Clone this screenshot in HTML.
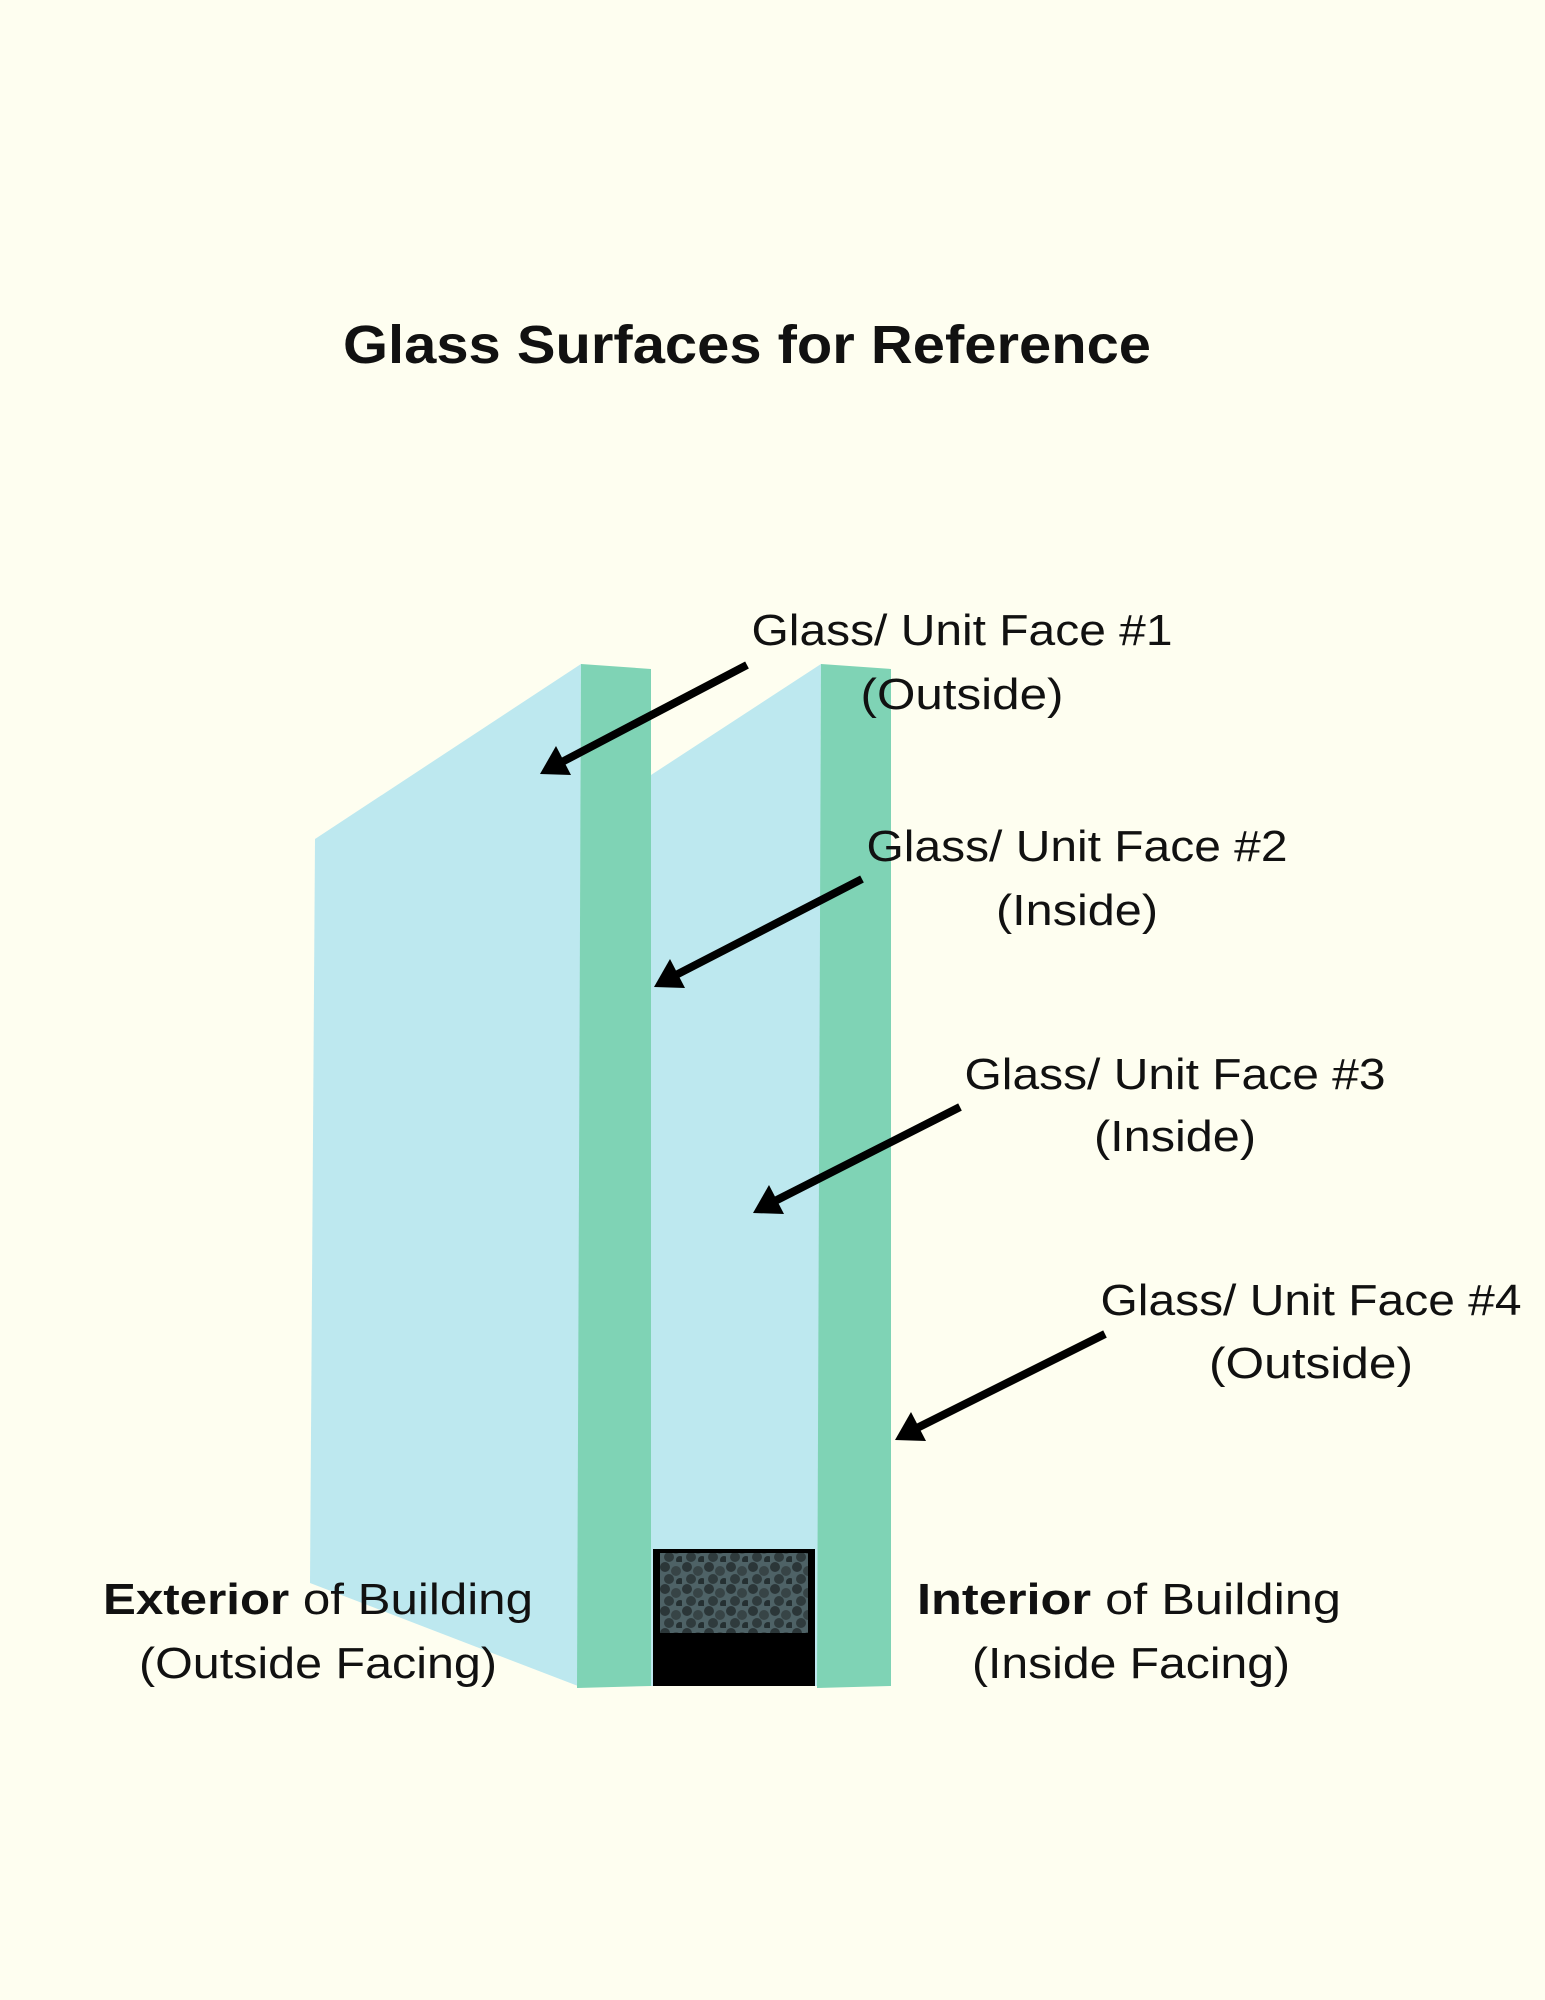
<!DOCTYPE html>
<html><head><meta charset="utf-8"><style>
html,body{margin:0;padding:0;background:#fefef0;}
svg{display:block}
text{font-family:"Liberation Sans",sans-serif;fill:#111;}
</style></head><body>
<svg width="1545" height="2000" viewBox="0 0 1545 2000" xmlns="http://www.w3.org/2000/svg">
<defs>
<pattern id="dots" width="22" height="22" patternUnits="userSpaceOnUse">
<rect width="22" height="22" fill="#4e6266"/>
<circle cx="5" cy="5" r="5" fill="#2b3638"/><circle cx="16" cy="9" r="5" fill="#374446"/>
<circle cx="9" cy="17" r="5" fill="#2f3b3d"/><circle cx="20" cy="20" r="4" fill="#253032"/>
</pattern>
</defs>
<rect width="1545" height="2000" fill="#fefef0"/>
<text x="747" y="363" text-anchor="middle" font-size="54" font-weight="bold" textLength="808" lengthAdjust="spacingAndGlyphs">Glass Surfaces for Reference</text>

<polygon points="315,839 581,664 578,1686 310,1583" fill="#bde8ef"/>
<polygon points="651,775 821,664 819,1686 651,1686" fill="#bde8ef"/>
<polygon points="581,664 651,669 651,1686 577,1688" fill="#7fd3b5"/>
<polygon points="821,664 891,669 891,1686 817,1688" fill="#7fd3b5"/>
<rect x="653" y="1549" width="162" height="137" fill="#000"/>
<rect x="660" y="1553" width="148" height="80" fill="url(#dots)"/>

<g stroke="#000" stroke-width="8" fill="#000">
<line x1="747" y1="665" x2="560" y2="763"/>
<line x1="862" y1="879" x2="674" y2="976"/>
<line x1="960" y1="1107" x2="773" y2="1202"/>
<line x1="1105" y1="1334" x2="915" y2="1429"/>
</g>
<g fill="#000">
<polygon points="540,774 556,746 571,775"/>
<polygon points="654,987 670,959 685,988"/>
<polygon points="753,1213 769,1185 784,1214"/>
<polygon points="895,1440 911,1412 926,1441"/>
</g>

<g font-size="44" text-anchor="middle">
<text x="962" y="645" textLength="421" lengthAdjust="spacingAndGlyphs">Glass/ Unit Face #1</text>
<text x="962" y="709" textLength="203" lengthAdjust="spacingAndGlyphs">(Outside)</text>
<text x="1077" y="861" textLength="421" lengthAdjust="spacingAndGlyphs">Glass/ Unit Face #2</text>
<text x="1077" y="925" textLength="162" lengthAdjust="spacingAndGlyphs">(Inside)</text>
<text x="1175" y="1089" textLength="421" lengthAdjust="spacingAndGlyphs">Glass/ Unit Face #3</text>
<text x="1175" y="1151" textLength="162" lengthAdjust="spacingAndGlyphs">(Inside)</text>
<text x="1311" y="1315" textLength="421" lengthAdjust="spacingAndGlyphs">Glass/ Unit Face #4</text>
<text x="1311" y="1378" textLength="204" lengthAdjust="spacingAndGlyphs">(Outside)</text>
<text x="318" y="1614" textLength="430" lengthAdjust="spacingAndGlyphs"><tspan font-weight="bold">Exterior</tspan> of Building</text>
<text x="318" y="1678" textLength="358" lengthAdjust="spacingAndGlyphs">(Outside Facing)</text>
<text x="1129" y="1614" textLength="424" lengthAdjust="spacingAndGlyphs"><tspan font-weight="bold">Interior</tspan> of Building</text>
<text x="1131" y="1678" textLength="318" lengthAdjust="spacingAndGlyphs">(Inside Facing)</text>
</g>
</svg>
</body></html>
